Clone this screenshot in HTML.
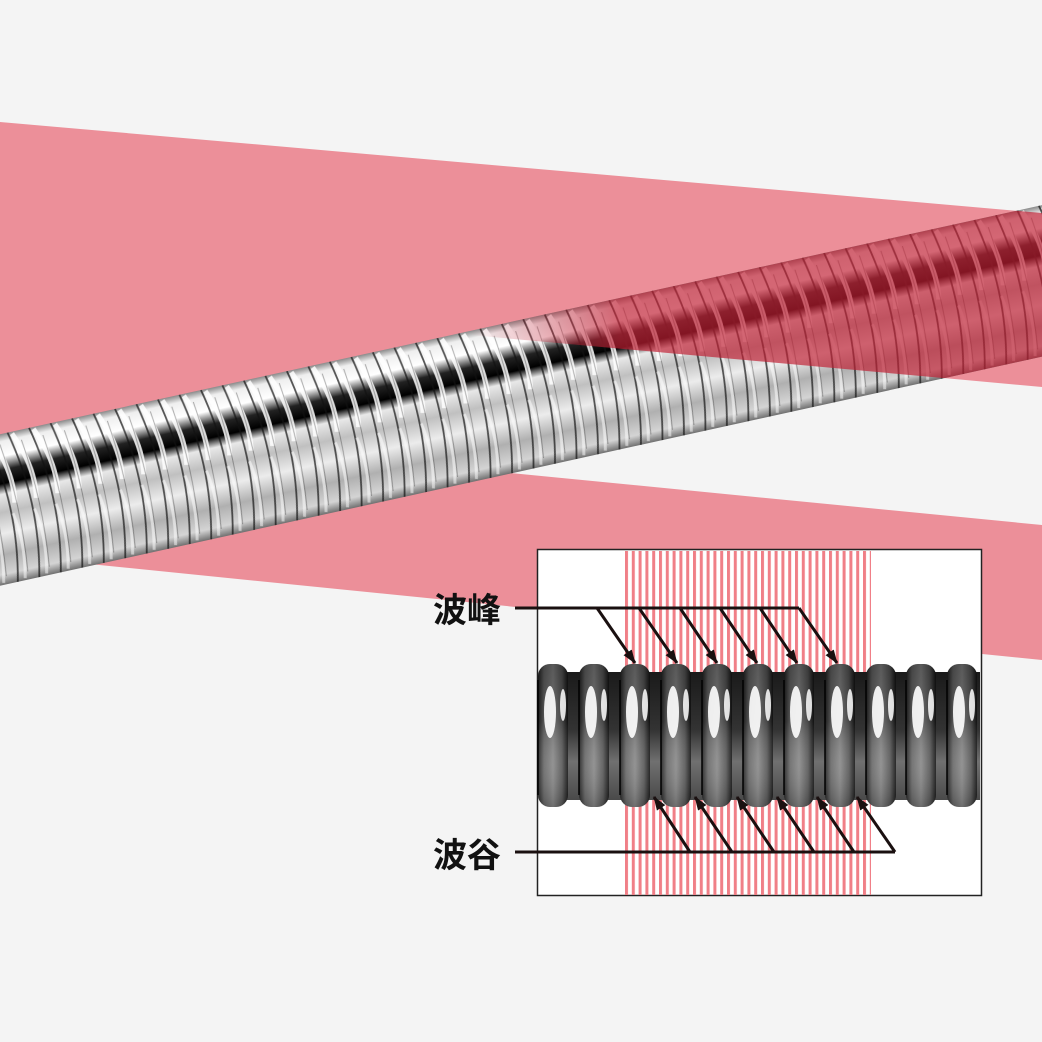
<!DOCTYPE html>
<html><head><meta charset="utf-8"><style>
html,body{margin:0;padding:0;background:#f4f4f4}
svg{display:block}
</style></head><body>
<svg width="1042" height="1042" viewBox="0 0 1042 1042" xmlns="http://www.w3.org/2000/svg">
<defs>
<linearGradient id="tg" x1="0" y1="0" x2="0" y2="1">
<stop offset="0" stop-color="#8a8a8a"/>
<stop offset="0.05" stop-color="#eeeeee"/>
<stop offset="0.15" stop-color="#ffffff"/>
<stop offset="0.24" stop-color="#222"/>
<stop offset="0.33" stop-color="#000"/>
<stop offset="0.40" stop-color="#e8e8e8"/>
<stop offset="0.52" stop-color="#c0c0c0"/>
<stop offset="0.66" stop-color="#ececec"/>
<stop offset="0.8" stop-color="#b0b0b0"/>
<stop offset="0.93" stop-color="#d4d4d4"/>
<stop offset="1" stop-color="#707070"/>
</linearGradient>
<linearGradient id="redfade" gradientUnits="userSpaceOnUse" x1="470" y1="0" x2="620" y2="0">
<stop offset="0" stop-color="#c01f33" stop-opacity="0"/>
<stop offset="1" stop-color="#c01f33" stop-opacity="0.68"/>
</linearGradient>
<pattern id="rib" patternUnits="userSpaceOnUse" x="0" y="-74" width="22" height="148">
<path d="M6,2 Q22,40 16,70" fill="none" stroke="#fff" stroke-width="5" opacity="0.85"/>
<path d="M2,0 Q19,74 2,148" fill="none" stroke="#111" stroke-width="1.8" opacity="0.7"/>
<path d="M12,80 Q18,110 10,146" fill="none" stroke="#fff" stroke-width="3" opacity="0.5"/>
<path d="M14,10 Q22,74 14,140" fill="none" stroke="#000" stroke-width="1" opacity="0.3"/>
</pattern>
<clipPath id="tubeclip">
<rect transform="translate(0,510) rotate(-12.4)" x="-30" y="-74" width="1130" height="148" rx="10"/>
</clipPath>
<pattern id="stripes" patternUnits="userSpaceOnUse" x="625" y="0" width="6.8" height="10">
<rect x="0" y="0" width="3" height="10" fill="#f07f87"/>
</pattern>
<linearGradient id="body" x1="0" y1="0" x2="0" y2="1">
<stop offset="0" stop-color="#1a1a1a"/>
<stop offset="0.45" stop-color="#333"/>
<stop offset="0.7" stop-color="#707070"/>
<stop offset="1" stop-color="#4a4a4a"/>
</linearGradient>
<linearGradient id="ribg" x1="0" y1="0" x2="1" y2="0">
<stop offset="0" stop-color="#222"/>
<stop offset="0.2" stop-color="#6a6a6a"/>
<stop offset="0.5" stop-color="#8a8a8a"/>
<stop offset="0.8" stop-color="#5a5a5a"/>
<stop offset="1" stop-color="#151515"/>
</linearGradient>
<linearGradient id="ribv" x1="0" y1="0" x2="0" y2="1">
<stop offset="0" stop-color="#000" stop-opacity="0.35"/>
<stop offset="0.4" stop-color="#000" stop-opacity="0.2"/>
<stop offset="0.7" stop-color="#fff" stop-opacity="0.08"/>
<stop offset="1" stop-color="#000" stop-opacity="0.2"/>
</linearGradient>
<g id="r">
<rect x="-15" y="664" width="30" height="143" rx="12" fill="url(#ribg)"/>
<rect x="-15" y="664" width="30" height="143" rx="12" fill="url(#ribv)"/>
<ellipse cx="-3" cy="712" rx="6" ry="26" fill="#fff" opacity="0.9"/>
<ellipse cx="10" cy="705" rx="3" ry="16" fill="#fff" opacity="0.85"/>
<line x1="-15" y1="680" x2="-15" y2="795" stroke="#000" stroke-width="1.5"/>
</g>
<marker id="ah" markerWidth="14" markerHeight="12" refX="13" refY="6" orient="auto" markerUnits="userSpaceOnUse">
<path d="M0,1 L14,6 L0,11 Z" fill="#1a1010"/>
</marker>
</defs>

<rect width="1042" height="1042" fill="#f4f4f4"/>
<polygon points="0,122 1042,213 1042,387 560,343 480,470 1042,525 1042,660 0,555" fill="#ec8f99"/>

<g transform="translate(0,510) rotate(-12.4)">
<rect x="-30" y="-74" width="1130" height="148" rx="10" fill="url(#tg)"/>
<rect x="-30" y="-74" width="1130" height="148" fill="url(#rib)"/>
</g>
<polygon clip-path="url(#tubeclip)" points="470,163 1042,213 1042,387 470,335" fill="url(#redfade)"/>

<rect x="537.5" y="549.5" width="444" height="346" fill="#fff" stroke="#222" stroke-width="1.5"/>
<rect x="625" y="551" width="246" height="344" fill="url(#stripes)"/>
<rect x="540" y="672" width="440" height="128" fill="url(#body)"/>
<use href="#r" x="553"/><use href="#r" x="594"/><use href="#r" x="635"/><use href="#r" x="676"/>
<use href="#r" x="717"/><use href="#r" x="758"/><use href="#r" x="799"/><use href="#r" x="840"/>
<use href="#r" x="881"/><use href="#r" x="921"/><use href="#r" x="962"/>

<g stroke="#1a1010" stroke-width="3" fill="none">
<polyline points="515,608 799,608"/>
<line x1="597" y1="608" x2="635" y2="663" marker-end="url(#ah)"/>
<line x1="639" y1="608" x2="677" y2="663" marker-end="url(#ah)"/>
<line x1="680" y1="608" x2="717" y2="663" marker-end="url(#ah)"/>
<line x1="720" y1="608" x2="757" y2="663" marker-end="url(#ah)"/>
<line x1="760" y1="608" x2="797" y2="663" marker-end="url(#ah)"/>
<line x1="799" y1="608" x2="837" y2="663" marker-end="url(#ah)"/>
<polyline points="515,852 895,852"/>
<line x1="690" y1="852" x2="654" y2="797" marker-end="url(#ah)"/>
<line x1="732" y1="852" x2="695" y2="797" marker-end="url(#ah)"/>
<line x1="774" y1="852" x2="737" y2="797" marker-end="url(#ah)"/>
<line x1="814" y1="852" x2="777" y2="797" marker-end="url(#ah)"/>
<line x1="854" y1="852" x2="817" y2="797" marker-end="url(#ah)"/>
<line x1="895" y1="852" x2="857" y2="797" marker-end="url(#ah)"/>
</g>
<text x="433" y="622" font-family="Liberation Sans, Noto Sans CJK SC, sans-serif" font-size="34" font-weight="bold" fill="#111">波峰</text>
<text x="433" y="867" font-family="Liberation Sans, Noto Sans CJK SC, sans-serif" font-size="34" font-weight="bold" fill="#111">波谷</text>
</svg>
</body></html>
